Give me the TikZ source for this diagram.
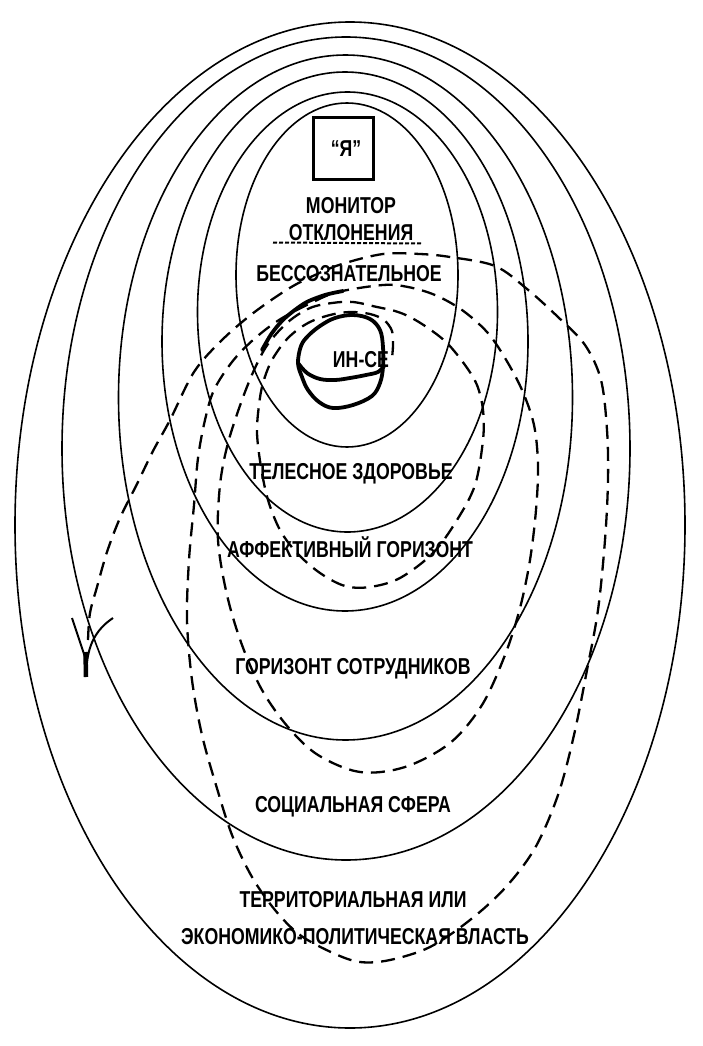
\documentclass[tikz,border=0pt]{standalone}
\usepackage{fontspec}
\newfontfamily\lab{Liberation Sans Bold}[FakeStretch=0.77]
\begin{document}
\begin{tikzpicture}[x=1pt,y=-1pt,
  ring/.style={line width=1.6pt},
  lbl/.style={font=\lab\fontsize{23}{26}\selectfont, inner sep=0pt, anchor=base},
  spiral/.style={line width=2.3pt, dash pattern=on 14pt off 8pt},
  pen/.style={line width=3.8pt, line cap=round, line join=round}]
\useasboundingbox (0,0) rectangle (702,1046);
\fill[white] (0,0) rectangle (702,1046);

% concentric rings
\draw[ring] (350,525) ellipse [x radius=335pt, y radius=503pt];
\draw[ring] (346,448.5) ellipse [x radius=284pt, y radius=411.5pt];
\draw[ring] (345.5,397.5) ellipse [x radius=227pt, y radius=342.5pt];
\draw[ring] (345,341.5) ellipse [x radius=183pt, y radius=269.5pt];
\draw[ring] (347.5,312) ellipse [x radius=150pt, y radius=220pt];
\draw[ring] (347,275) ellipse [x radius=111pt, y radius=172pt];

% box "Я"
\node[draw, line width=2.6pt, minimum width=60pt, minimum height=62pt, inner sep=0pt] (ya) at (343.5,148.5) {};
\node[lbl] (yat) at (346,156) {“Я”};

% labels
\node[lbl] (mon) at (351,213) {МОНИТОР};
\node[lbl] (otk) at (351,240) {ОТКЛОНЕНИЯ};
\draw[line width=2pt, dash pattern=on 4pt off 2pt] (273,242.5) -- (422,243.5);
\node[lbl] (bes) at (349,281) {БЕССОЗНАТЕЛЬНОЕ};
\node[lbl] (tel) at (351,479) {ТЕЛЕСНОЕ ЗДОРОВЬЕ};
\node[lbl] (aff) at (350,557) {АФФЕКТИВНЫЙ ГОРИЗОНТ};
\node[lbl] (sot) at (353,674) {ГОРИЗОНТ СОТРУДНИКОВ};
\node[lbl] (soc) at (353,812) {СОЦИАЛЬНАЯ СФЕРА};
\node[lbl] (ter) at (353,907) {ТЕРРИТОРИАЛЬНАЯ ИЛИ};
\node[lbl] (eko) at (355,944) {ЭКОНОМИКО-ПОЛИТИЧЕСКАЯ ВЛАСТЬ};

% spiral
\draw[spiral] plot[smooth, tension=0.55] coordinates {
 (88,640) (90,613) (97,587) (107,552) (120,518) (137,484) (153,451) (170,420)
 (194,372) (221,341) (252,314) (288,289) (315,275) (342,264) (383,254) (420,254)
 (450,257) (495,266) (527,289) (558,317) (585,345) (601,380) (607,430) (608,480)
 (605,540) (598,610) (587,670) (574,735) (558,795) (535,848) (505,888) (470,920)
 (430,947) (390,960) (360,962) (333,953) (300,935) (275,910) (252,877) (232,835)
 (216,785) (202,735) (192,680) (187,620) (189,560) (194,505) (198,458) (205,420)
 (214,390) (232,362) (253,340) (279,320) (311,303) (338,292) (383,285) (408,287)
 (435,295) (462,310) (487,332) (505,358) (522,390) (534,425) (538,465) (536,510)
 (530,560) (520,608) (505,655) (482,705) (450,743) (405,767) (360,772) (318,755)
 (288,727) (262,690) (242,645) (227,595) (218,540) (220,485) (228,443) (242,400)
 (255,368) (268,344) (288,322) (310,308) (332,303) (353,302) (377,307) (395,311)
 (410,317) (428,328) (447,343) (465,365) (477,385) (483,410) (483,440) (475,485)
 (457,520) (433,553) (400,578) (370,587) (345,586) (320,573) (297,553) (280,530)
 (268,500) (261,467) (257,433) (259,405) (263,383) (272,360) (288,338) (308,323)
 (330,315) (350,312) (370,314) (384,320) (392,331) (393,345) (392,358)};

% thick pen arc
\draw[pen] plot[smooth] coordinates {(262,350) (272,333) (285,318) (305,303) (325,295) (343,291)};

% IN-SE blob
\draw[pen] plot[smooth cycle, tension=0.6] coordinates {
 (298,363) (301,346) (308,336) (320,326) (335,318) (353,315) (370,319) (380,330)
 (383,347) (383,367) (380,383) (372,396) (353,405) (333,408) (319,402) (308,390) (302,377)};
\draw[pen] plot[smooth, tension=0.6] coordinates {(298,363) (307,373) (320,379) (335,380) (350,378) (366,375) (378,372) (384,366)};
\node[lbl] (inse) at (361,367) {ИН-СЕ};

% fork mark at the end of the spiral
\draw[line width=4.5pt] (85.5,652) -- (86,677);
\draw[line width=2pt] (72,618) -- (85,657);
\draw[line width=2pt] (113,618) .. controls (98,628) and (89,642) .. (87,663);
\end{tikzpicture}
\end{document}
